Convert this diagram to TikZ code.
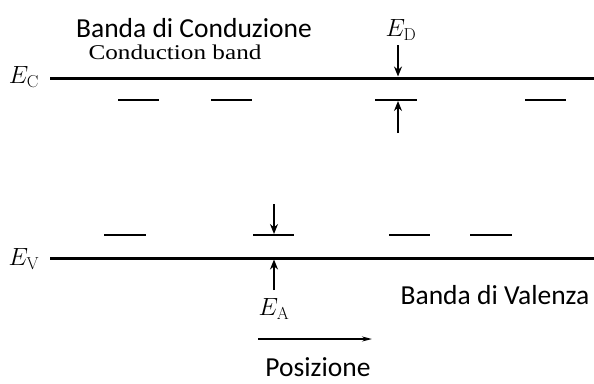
\documentclass[tikz,border=0pt]{standalone}
\usepackage[no-math]{fontspec}
\newfontfamily\calfont{Carlito}
\newfontfamily\serfont{Liberation Serif}
\usetikzlibrary{arrows.meta}
\begin{document}
\begin{tikzpicture}[x=1pt,y=-1pt,
  band/.style={line width=3pt},
  level/.style={line width=2pt},
  arr/.style={line width=1.6pt,-{Stealth[length=10pt,width=8pt]}},
  lbl/.style={font=\fontsize{27.5}{30}\selectfont\calfont, inner sep=0pt},
  mlbl/.style={font=\fontsize{23}{26}\selectfont, inner sep=0pt}]
\useasboundingbox (0,0) rectangle (594,383);

% bands
\coordinate (ecL) at (50,78);  \coordinate (ecR) at (594,78);
\coordinate (evL) at (50,258); \coordinate (evR) at (594,258);
\draw[band] (ecL) -- (ecR);
\draw[band] (evL) -- (evR);
\node[mlbl] (ec) at (24,77) {$E_{\mathrm{C}}$};
\node[mlbl] (ev) at (24,259) {$E_{\mathrm{V}}$};

% donor levels
\foreach \a/\b [count=\i] in {118/159, 211/252, 375/417, 525/566}{
  \coordinate (dL\i) at (\a,100); \coordinate (dR\i) at (\b,100);
  \draw[level] (dL\i) -- (dR\i);
}
% acceptor levels
\foreach \a/\b [count=\i] in {104/146, 253/294, 389/430, 470/512}{
  \coordinate (aL\i) at (\a,235); \coordinate (aR\i) at (\b,235);
  \draw[level] (aL\i) -- (aR\i);
}

% E_D arrows
\coordinate (edTop) at (398,45);   \coordinate (edHit) at (398,76.5);
\coordinate (edBot) at (398,133);  \coordinate (edBar) at (398,101);
\draw[arr] (edTop) -- (edHit);
\draw[arr] (edBot) -- (edBar);
\node[mlbl] (ed) at (401,30) {$E_{\mathrm{D}}$};

% E_A arrows
\coordinate (eaTop) at (274,204);  \coordinate (eaBar) at (274,234);
\coordinate (eaBot) at (274,290);  \coordinate (eaHit) at (274,259.5);
\draw[arr] (eaTop) -- (eaBar);
\draw[arr] (eaBot) -- (eaHit);
\node[mlbl] (ea) at (274,309) {$E_{\mathrm{A}}$};

% position arrow
\coordinate (pL) at (258,339); \coordinate (pR) at (372,339);
\draw[line width=1.5pt,-{Stealth[length=10pt,width=5pt]}] (pL) -- (pR);

% texts
\node[lbl] (bc) at (194,28) {Banda di Conduzione};
\node[font=\fontsize{21}{24}\selectfont\serfont, inner sep=0pt, xscale=1.2, transform shape] (cb) at (175,52) {Conduction band};
\node[lbl] (bv) at (495,295) {Banda di Valenza};
\node[lbl] (pos) at (318,367) {Posizione};
\end{tikzpicture}
\end{document}
